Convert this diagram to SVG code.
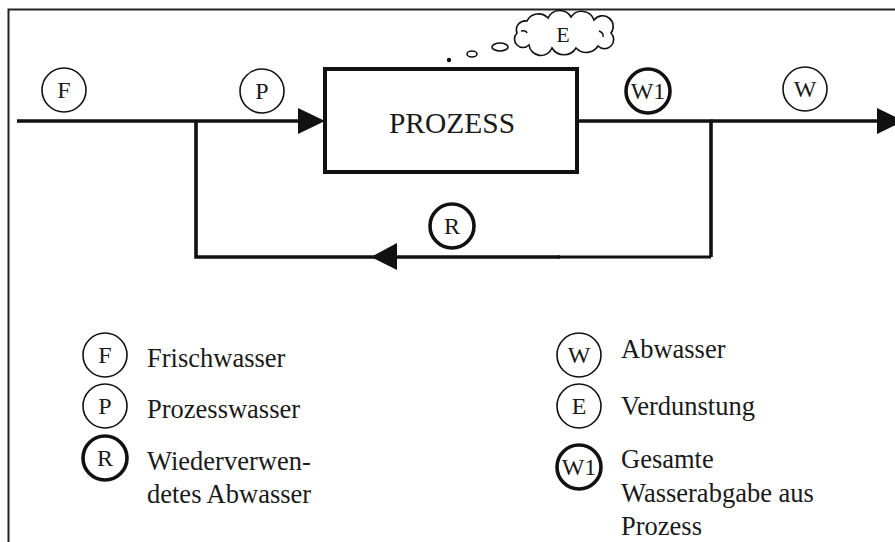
<svg xmlns="http://www.w3.org/2000/svg" width="895" height="542" viewBox="0 0 895 542">
<style>
text{font-family:"Liberation Serif","Times New Roman",serif;fill:#1a1a1a}
.lbl{font-size:24px;text-anchor:middle}
.leg{font-size:26.5px}
.thin{fill:#fff;stroke:#111;stroke-width:1.6}
.thick{fill:#fff;stroke:#111;stroke-width:3.6}
.flow{fill:none;stroke:#111;stroke-width:3.6}
.head{fill:#111;stroke:none}
</style>
<rect x="0" y="0" width="895" height="542" fill="#fff"/>
<g id="frame" fill="none" stroke="#222" stroke-width="2">
<path d="M8.5 542 V9.5 H895"/>
</g>
<g id="connectors">
<path class="flow" d="M17 121 H300"/>
<polygon class="head" points="298,108 325,121 298,134"/>
<path class="flow" d="M196 121 V257 H560"/>
<path d="M558 257 H711" fill="none" stroke="#111" stroke-width="3"/>
<path class="flow" d="M711 257 V121 H577"/>
<path class="flow" d="M711 121 H880"/>
<polygon class="head" points="877,108 904,121 877,134"/>
<polygon class="head" points="397,243 371,257 397,270"/>
<ellipse cx="500" cy="47" rx="8" ry="4" fill="none" stroke="#111" stroke-width="1.6"/>
<ellipse cx="472" cy="54" rx="5" ry="3" fill="none" stroke="#111" stroke-width="1.6"/>
<circle cx="449" cy="60" r="2.2" fill="#111"/>
</g>
<g id="process">
<rect x="325" y="69" width="252" height="103" fill="#fff" stroke="#111" stroke-width="4"/>
<text x="452" y="133" font-size="29.5" text-anchor="middle">PROZESS</text>
</g>
<g id="node-E">
<path d="M517 33 A9 9 0 0 1 527 21 A13 13 0 0 1 548 18 A13 13 0 0 1 571 17 A13 13 0 0 1 594 20 A10 10 0 0 1 611 33 A9 9 0 0 1 598 46 A14 14 0 0 1 576 48 A14 14 0 0 1 552 48 A12 12 0 0 1 529 45 A8 8 0 0 1 517 33 Z" fill="#fff" stroke="#111" stroke-width="1.6"/>
<path d="M521 31 q5 -1 6 2 M599 31 q5 2 4 6" fill="none" stroke="#111" stroke-width="1.4"/>
<text x="563" y="42" font-size="22" text-anchor="middle">E</text>
</g>
<g id="node-F">
<circle class="thin" cx="64" cy="90" r="22"/>
<text class="lbl" x="64" y="98">F</text>
</g>
<g id="node-P">
<circle class="thin" cx="262" cy="91" r="22"/>
<text class="lbl" x="262" y="99">P</text>
</g>
<g id="node-W1">
<circle class="thick" cx="648" cy="91" r="22"/>
<text class="lbl" x="648" y="99">W1</text>
</g>
<g id="node-W">
<circle class="thin" cx="805" cy="89" r="22"/>
<text class="lbl" x="805" y="97">W</text>
</g>
<g id="node-R">
<circle class="thick" cx="452" cy="226" r="22"/>
<text class="lbl" x="452" y="234">R</text>
</g>
<g id="legend">
<circle class="thin" cx="105" cy="355" r="22"/>
<text class="lbl" x="105" y="363">F</text>
<text class="leg" x="147" y="367">Frischwasser</text>
<circle class="thin" cx="105" cy="406" r="22"/>
<text class="lbl" x="105" y="414">P</text>
<text class="leg" x="147" y="418">Prozesswasser</text>
<circle class="thick" cx="105" cy="458" r="22"/>
<text class="lbl" x="105" y="466">R</text>
<text class="leg" x="147" y="470">Wiederverwen-</text>
<text class="leg" x="147" y="503">detes Abwasser</text>
<circle class="thin" cx="579" cy="355" r="22"/>
<text class="lbl" x="579" y="363">W</text>
<text class="leg" x="621" y="358">Abwasser</text>
<circle class="thin" cx="579" cy="406" r="22"/>
<text class="lbl" x="579" y="414">E</text>
<text class="leg" x="621" y="415">Verdunstung</text>
<circle class="thick" cx="579" cy="467" r="22"/>
<text class="lbl" x="579" y="475">W1</text>
<text class="leg" x="621" y="468">Gesamte</text>
<text class="leg" x="621" y="502">Wasserabgabe aus</text>
<text class="leg" x="621" y="535">Prozess</text>
</g>
</svg>
